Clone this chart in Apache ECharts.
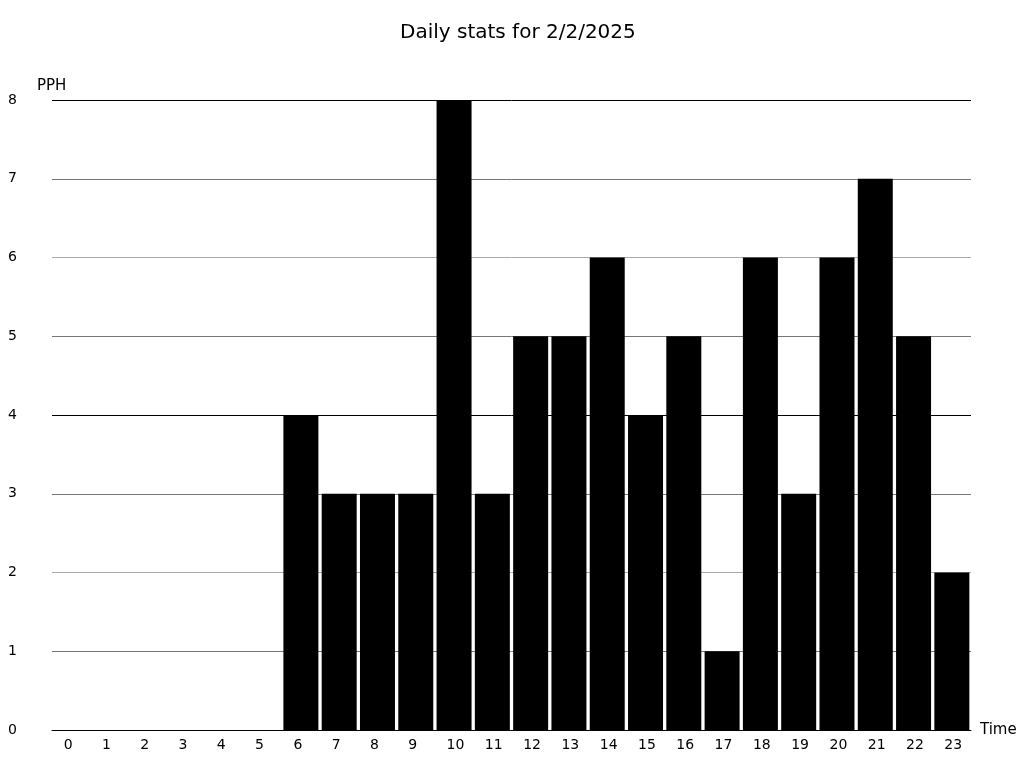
<!DOCTYPE html>
<html><head><meta charset="utf-8">
<script src="https://cdn.jsdelivr.net/npm/echarts@6/dist/echarts.min.js"></script>
<style>html,body{margin:0;padding:0;background:#fff}#c{width:1024px;height:768px}</style>
</head><body><div id="c"></div>
<script>
const categories = ['0','1','2','3','4','5','6','7','8','9','10','11','12','13','14','15','16','17','18','19','20','21','22','23'];
const pph = [0,0,0,0,0,0,4,3,3,3,8,3,5,5,6,4,5,1,6,3,6,7,5,2];
const yTicks = [0,1,2,3,4,5,6,7,8];
const chart = echarts.init(document.getElementById('c'), null, {renderer:'canvas'});
const font = 'DejaVu Sans';
chart.setOption({
  animation:false,
  backgroundColor:'#fff',
  title:{text:'Daily stats for 2/2/2025', left:395, top:18, textStyle:{fontFamily:font, fontSize:20, fontWeight:'normal', color:'#000'}},
  grid:{left:52, right:53, top:100, bottom:38},
  xAxis:{type:'category', data:categories, name:'Time', nameLocation:'end', nameGap:9,
    nameTextStyle:{fontFamily:font, fontSize:15, color:'#000', verticalAlign:'middle'},
    axisLine:{lineStyle:{color:'#000', width:1}}, axisTick:{show:false},
    axisLabel:{interval:0, hideOverlap:false, fontFamily:font, fontSize:14, color:'#000', margin:8,
      formatter: v => '{a|' + v + '}',
      rich:{a:{fontFamily:font, fontSize:14, color:'#000', width:15, align:'left'}}}},
  yAxis:{type:'value', min:yTicks[0], max:yTicks[yTicks.length-1], interval:1, name:'PPH',
    nameTextStyle:{fontFamily:font, fontSize:15, color:'#000', align:'left', padding:[0,0,0,-15]}, nameGap:6,
    axisLine:{show:false}, axisTick:{show:false},
    axisLabel:{fontFamily:font, fontSize:14, color:'#000', align:'left', margin:44},
    splitLine:{lineStyle:{color:['#000','#777','#aaa','#777'], width:1}}},
  series:[{type:'bar', data:pph, barCategoryGap:'8.6%', itemStyle:{color:'#000'}}]
});
</script></body></html>
